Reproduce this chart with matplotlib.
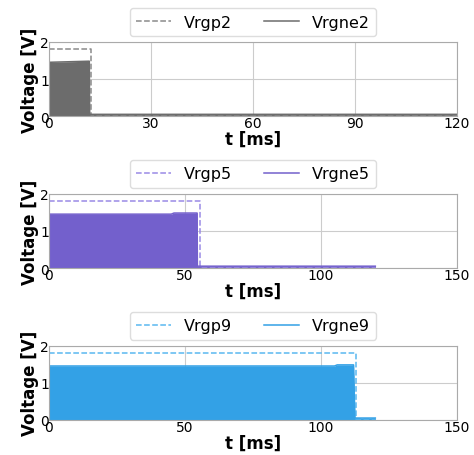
import numpy as np
from matplotlib import pyplot as plt

# dashed reference voltages
t_p2 = [0, 12.5, 12.5, 120]
v_p2 = [1.8, 1.8, 0.03, 0.03]
t_p5 = [0, 55.5, 55.5, 120]
v_p5 = [1.8, 1.8, 0.03, 0.03]
t_p9 = [0, 113, 113, 120]
v_p9 = [1.8, 1.8, 0.03, 0.03]

# measured (filled) voltages
t_n2 = [0, 11.9, 12.0, 120]
v_n2 = [1.45, 1.48, 0.05, 0.05]
t_n5 = [0, 45, 46, 54.5, 54.6, 120]
v_n5 = [1.45, 1.45, 1.48, 1.48, 0.05, 0.05]
t_n9 = [0, 105, 106, 112, 112.5, 120]
v_n9 = [1.45, 1.45, 1.48, 1.48, 0.05, 0.05]

panels = [
    ("2", t_p2, v_p2, t_n2, v_n2, 120, [0, 30, 60, 90, 120], "#6c6c6c", "#8a8a8a"),
    ("5", t_p5, v_p5, t_n5, v_n5, 150, [0, 50, 100, 150], "#7360cc", "#9a8ae6"),
    ("9", t_p9, v_p9, t_n9, v_n9, 150, [0, 50, 100, 150], "#33a1e6", "#5ab8f0"),
]

fig = plt.figure(figsize=(4.74, 4.56), dpi=100)
bottoms = [0.743, 0.410, 0.077]
h = 0.163

for (tag, tp, vp, tn, vn, xmax, xt, c, cd), b in zip(panels, bottoms):
    ax = fig.add_axes([0.103, b, 0.861, h])
    ax.plot(tp, vp, ls="--", lw=1.1, color=cd, label="Vrgp" + tag)
    ax.plot(tn, vn, lw=1.1, color=c, label="Vrgne" + tag)
    ax.fill_between(tn, 0, vn, color=c, lw=0)
    ax.set_xlim(0, xmax)
    ax.set_ylim(0, 2)
    ax.set_xticks(xt)
    ax.set_yticks([0, 1, 2])
    ax.tick_params(labelsize=10, length=0, pad=0)
    ax.grid(True, color="#cccccc", lw=0.8)
    ax.set_axisbelow(True)
    for s in ax.spines.values():
        s.set_color("#aaaaaa")
    ax.set_xlabel("t [ms]", fontsize=12, fontweight="bold", labelpad=0)
    ax.set_ylabel("Voltage [V]", fontsize=12, fontweight="bold", labelpad=1)
    ax.legend(loc="lower center", bbox_to_anchor=(0.5, 1.08), ncol=2,
              fontsize=11.5, columnspacing=2.0, handlelength=2.2,
              borderaxespad=0, framealpha=1, edgecolor="#dddddd")

fig.savefig("out.png", dpi=100)
